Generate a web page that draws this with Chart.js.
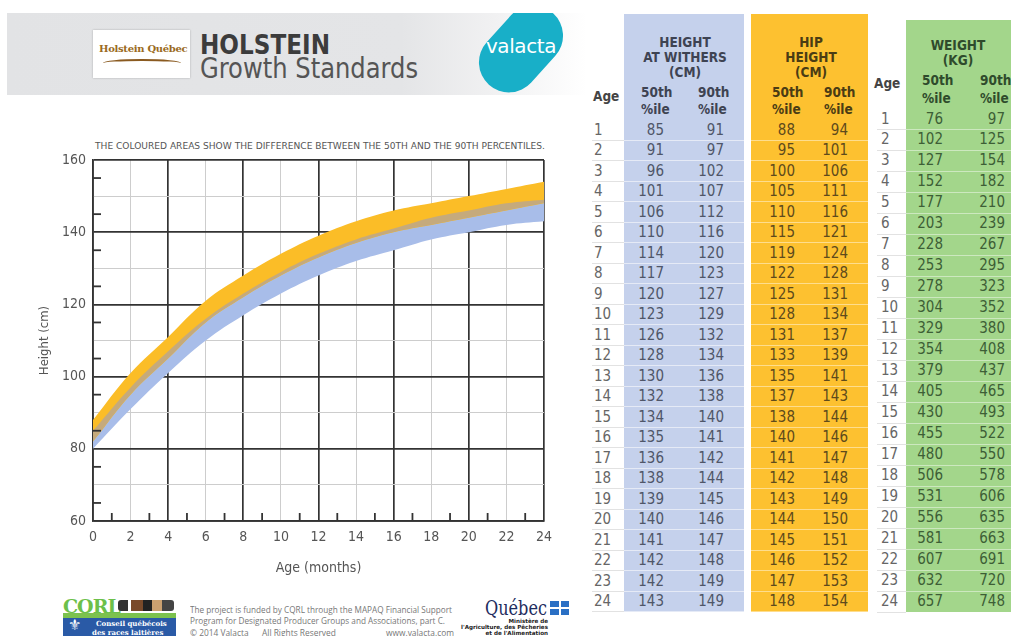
<!DOCTYPE html>
<html>
<head>
<meta charset="utf-8">
<script src="https://cdn.jsdelivr.net/npm/chart.js@4.4.1/dist/chart.umd.min.js"></script>
<style>
  html, body { margin: 0; padding: 0; background: #fff; }
  body { width: 1011px; height: 636px; position: relative; overflow: hidden;
         font-family: "DejaVu Sans Condensed", Roboto, sans-serif; color: #555; }
  .a { position: absolute; white-space: nowrap; }
  #banner { left: 7px; top: 13px; width: 580px; height: 82px;
            background: linear-gradient(to right, #e2e3e5 0%, #e4e5e7 68%, #f1f1f2 84%, #fff 100%); }
  #logo { left: 93px; top: 30px; width: 97px; height: 48px; background: #fff; box-shadow: 0 0 2px rgba(0,0,0,.25); }
  #logo span { position: absolute; left: 6px; top: 13px; font: bold 10px "DejaVu Serif", serif; color: #9a6a22; letter-spacing: -.3px; }
  #logo i { position: absolute; left: 10px; top: 29px; width: 78px; height: 6px; border-top: 2px solid #8a5a20; border-radius: 50% 50% 0 0; }
  #blobclip { left: 455px; top: 13px; width: 130px; height: 90px; overflow: hidden; }
  #blob { position: absolute; left: 36px; top: -12px; width: 60px; height: 96px; border-radius: 30px; background: #18afc8; transform: rotate(42deg); }
  #valacta { top: 34px; font: 20px "DejaVu Sans", sans-serif; color: #fff; letter-spacing: -.4px; }
  .col { position: absolute; }
  .hd { position: absolute; font-weight: bold; font-size: 13.5px; white-space: nowrap; }
  .num { position: absolute; font-size: 15px; white-space: nowrap; }
  .sep { position: absolute; height: 1px; }
  #wrap { position: absolute; left: 0; top: 140px; width: 570px; height: 440px; }
  .foot { position: absolute; font-family: "Open Sans", sans-serif; font-size: 8.4px; color: #777; white-space: nowrap; }
</style>
</head>
<body>
<div id="banner" class="a"></div>
<div id="logo" class="a"><span>Holstein Québec</span><i></i></div>
<div id="holstein" class="a" style="left:200px;top:29px;font-weight:bold;font-size:27px;color:#3c3c3c;">HOLSTEIN</div>
<div id="growth" class="a" style="left:200px;top:52px;font-size:28px;color:#555;">Growth Standards</div>
<div id="blobclip" class="a"><div id="blob"></div></div>
<div id="valacta" class="a">valacta</div>

<div id="sub" class="a" style="left:95px;top:141px;font-size:9px;color:#555;">THE COLOURED AREAS SHOW THE DIFFERENCE BETWEEN THE 50TH AND THE 90TH PERCENTILES.</div>
<div id="wrap"><canvas id="growthChart"></canvas></div>

<div id="tables"></div>

<!-- footer -->
<div class="a" style="left:63px;top:597px;width:113px;height:40px;background:#fff;"></div>
<div class="a" style="left:63px;top:595px;font:bold 19px 'DejaVu Serif',serif;color:#6cc04a;letter-spacing:-1px;">CQRL</div>
<div class="a" style="left:118px;top:600px;width:56px;height:11px;background:linear-gradient(to right,#333 0 18%,#fff 18% 24%,#7a4a2a 24% 44%,#222 44% 60%,#caa070 60% 78%,#444 78%);border-radius:3px;"></div>
<div class="a" style="left:63px;top:613px;width:113px;height:5px;background:#7cc24e;"></div>
<div class="a" style="left:63px;top:618px;width:113px;height:20px;background:#2a5aa6;"></div>
<div class="a" style="left:68px;top:616px;font:15px 'DejaVu Sans',sans-serif;color:#fff;">⚜</div>
<div class="a" style="left:96px;top:619px;font:bold 7px 'DejaVu Serif',serif;color:#fff;">Conseil québécois</div>
<div class="a" style="left:92px;top:628px;font:bold 7px 'DejaVu Serif',serif;color:#fff;">des races laitières</div>

<div id="f1" class="foot" style="left:190px;top:604px;">The project is funded by CQRL through the MAPAQ Financial Support</div>
<div id="f2" class="foot" style="left:190px;top:615px;">Program for Designated Producer Groups and Associations, part C.</div>
<div class="foot" style="left:190px;top:627px;">© 2014 Valacta</div>
<div class="foot" style="left:262px;top:627px;">All Rights Reserved</div>
<div class="foot" style="left:386px;top:627px;">www.valacta.com</div>

<div id="quebec" class="a" style="left:485px;top:596px;font:20px 'DejaVu Serif',serif;color:#1d2c5e;">Québec</div>
<div class="a" style="left:550px;top:601px;width:19px;height:14px;background:#2a6fc4;"></div>
<div class="a" style="left:558.5px;top:601px;width:2px;height:14px;background:#fff;"></div>
<div class="a" style="left:550px;top:607px;width:19px;height:2px;background:#fff;"></div>
<div class="a" style="right:463px;top:618px;font:bold 5.6px 'DejaVu Sans',sans-serif;color:#222;text-align:right;line-height:6px;">Ministère de<br>l'Agriculture, des Pêcheries<br>et de l'Alimentation</div>

<script>
// ---- data: month 0, months 1-24 from the tables ----
const months    = [0, 1, 2, 3, 4, 5, 6, 7, 8, 9, 10, 11, 12, 13, 14, 15, 16, 17, 18, 19, 20, 21, 22, 23, 24];
const withers50 = [80, 85, 91, 96, 101, 106, 110, 114, 117, 120, 123, 126, 128, 130, 132, 134, 135, 136, 138, 139, 140, 141, 142, 142, 143];
const withers90 = [85, 91, 97, 102, 107, 112, 116, 120, 123, 127, 129, 132, 134, 136, 138, 140, 141, 142, 144, 145, 146, 147, 148, 149, 149];
const hip50     = [82, 88, 95, 100, 105, 110, 115, 119, 122, 125, 128, 131, 133, 135, 137, 138, 140, 141, 142, 143, 144, 145, 146, 147, 148];
const hip90     = [88, 94, 101, 106, 111, 116, 121, 124, 128, 131, 134, 137, 139, 141, 143, 144, 146, 147, 148, 149, 150, 151, 152, 153, 154];
const weight50  = [76, 102, 127, 152, 177, 203, 228, 253, 278, 304, 329, 354, 379, 405, 430, 455, 480, 506, 531, 556, 581, 607, 632, 657];
const weight90  = [97, 125, 154, 182, 210, 239, 267, 295, 323, 352, 380, 408, 437, 465, 493, 522, 550, 578, 606, 635, 663, 691, 720, 748];

const BLUE = '#a8bde9', YELLOW = '#fbbd27', OVERLAP = '#c5aa7c';
const DARK = '#333', LIGHT = '#cdcdcd', TXT = '#555';
const FONT = '"DejaVu Sans Condensed", Roboto, sans-serif';

// ---- tables ----
const T = document.getElementById('tables');
function box(l, t, w, h, bg) {
  const d = document.createElement('div'); d.className = 'col';
  d.style.cssText = `left:${l}px;top:${t}px;width:${w}px;height:${h}px;background:${bg}`;
  T.appendChild(d);
}
function txt(cls, s, x, y, align, color) {
  const d = document.createElement('div'); d.className = cls; d.textContent = s; d.style.color = color;
  T.appendChild(d);
  const r = d.getBoundingClientRect();
  let left = x;
  if (align === 'right') left = x - r.width;
  else if (align === 'center') left = x - r.width / 2;
  d.style.left = left + 'px'; d.style.top = (y - r.height / 2) + 'px';
}
function sep(l, w, y, c) {
  const d = document.createElement('div'); d.className = 'sep';
  d.style.cssText = `left:${l}px;top:${y}px;width:${w}px;background:${c}`;
  T.appendChild(d);
}

box(624, 14, 120, 598, '#c5d1ec');
box(751, 14, 117, 598, '#fdc130');
box(906, 20, 105, 592, '#a3d68b');

const HB = '#3e4352', HY = '#4a3c14', HG = '#2f4b2c';
txt('hd', 'HEIGHT', 685, 42, 'center', HB);
txt('hd', 'AT WITHERS', 685, 57, 'center', HB);
txt('hd', '(CM)', 685, 72, 'center', HB);
txt('hd', 'Age', 593, 96, 'left', '#444');
txt('hd', '50th', 641, 92, 'left', HB);  txt('hd', '%ile', 641, 109, 'left', HB);
txt('hd', '90th', 698, 92, 'left', HB);  txt('hd', '%ile', 698, 109, 'left', HB);
txt('hd', 'HIP', 811, 42, 'center', HY);
txt('hd', 'HEIGHT', 811, 57, 'center', HY);
txt('hd', '(CM)', 811, 72, 'center', HY);
txt('hd', '50th', 772, 92, 'left', HY);  txt('hd', '%ile', 772, 109, 'left', HY);
txt('hd', '90th', 824, 92, 'left', HY);  txt('hd', '%ile', 824, 109, 'left', HY);
txt('hd', 'WEIGHT', 958, 45, 'center', HG);
txt('hd', '(KG)', 958, 60, 'center', HG);
txt('hd', 'Age', 874, 83, 'left', '#444');
txt('hd', '50th', 922, 80, 'left', HG);  txt('hd', '%ile', 922, 98, 'left', HG);
txt('hd', '90th', 980, 80, 'left', HG);  txt('hd', '%ile', 980, 98, 'left', HG);

for (let i = 0; i < 24; i++) {
  const m = months[i + 1];
  const y1 = 129.5 + i * 20.5;
  sep(592, 32, y1 + 10.2, '#e2e2e2'); sep(624, 120, y1 + 10.2, 'rgba(255,255,255,.55)');
  sep(751, 117, y1 + 10.2, 'rgba(255,255,255,.45)');
  txt('num', String(m), 594, y1, 'left', '#666');
  txt('num', String(withers50[i + 1]), 664, y1, 'right', '#4f5668');
  txt('num', String(withers90[i + 1]), 724, y1, 'right', '#4f5668');
  txt('num', String(hip50[i + 1]), 795, y1, 'right', '#5e4a1c');
  txt('num', String(hip90[i + 1]), 848, y1, 'right', '#5e4a1c');
  const y2 = 118.5 + i * 20.98;
  sep(877, 29, y2 + 10.5, '#e2e2e2'); sep(906, 105, y2 + 10.5, 'rgba(255,255,255,.45)');
  txt('num', String(m), 881, y2, 'left', '#666');
  txt('num', String(weight50[i]), 943, y2, 'right', '#3d5e36');
  txt('num', String(weight90[i]), 1005, y2, 'right', '#3d5e36');
}

// stretch a few text lines to the widths they have in the poster
function fitW(id, w) {
  const el = document.getElementById(id);
  const cur = el.getBoundingClientRect().width;
  el.style.transformOrigin = '0 0';
  el.style.transform = 'scaleX(' + (w / cur) + ')';
}
fitW('holstein', 130); fitW('growth', 218); fitW('sub', 450); fitW('f1', 262); fitW('f2', 255);
fitW('quebec', 62);
const va = document.getElementById('valacta');
va.style.left = (521 - va.getBoundingClientRect().width / 2) + 'px';

// ---- chart ----
// the poster draws smooth curves; plotting the table at every second month
// keeps the 1 cm rounding of the table from making the spline wobble
const pts = arr => months.map((m, i) => ({ x: m, y: arr[i] })).filter(p => p.x % 2 === 0);

const innerTicks = {
  id: 'innerTicks',
  afterDatasetsDraw(chart) {
    const { ctx, chartArea: a, scales: { x, y } } = chart;
    ctx.save();
    ctx.strokeStyle = DARK; ctx.lineWidth = 1.8;
    y.ticks.forEach(t => {
      if (t.value % 10 !== 5) return;
      const py = y.getPixelForValue(t.value);
      ctx.beginPath(); ctx.moveTo(a.left, py); ctx.lineTo(a.left + 8, py); ctx.stroke();
    });
    x.ticks.forEach(t => {
      if (t.value % 2 !== 1) return;
      const px = x.getPixelForValue(t.value);
      ctx.beginPath(); ctx.moveTo(px, a.bottom); ctx.lineTo(px, a.bottom - 8); ctx.stroke();
    });
    ctx.restore();
  }
};

const line = { borderWidth: 0, pointRadius: 0, tension: 0.4 };

const chart = new Chart(document.getElementById('growthChart'), {
  type: 'line',
  data: {
    datasets: [
      { ...line, label: 'Withers 50th', data: pts(withers50), fill: false, order: 5 },
      { ...line, label: 'Withers 90th', data: pts(withers90), fill: 0, backgroundColor: BLUE, order: 4 },
      { ...line, label: 'Hip 50th', data: pts(hip50), fill: false, order: 5 },
      { ...line, label: 'Hip 90th', data: pts(hip90), fill: 2, backgroundColor: YELLOW, order: 3 },
      { ...line, label: 'Overlap', data: pts(withers90), fill: { target: 2, above: OVERLAP, below: 'rgba(0,0,0,0)' }, order: 1 }
    ]
  },
  options: {
    responsive: true, maintainAspectRatio: false, animation: false,
    layout: { padding: { left: 0, top: 20, right: 20, bottom: 0 } },
    plugins: { legend: { display: false }, tooltip: { enabled: false } },
    scales: {
      x: {
        type: 'linear', min: 0, max: 24,
        ticks: { stepSize: 1, autoSkip: false, maxRotation: 0, color: TXT, padding: 8,
                 font: { family: FONT, size: 14 }, callback: v => (v % 2 === 0 ? v : '') },
        grid: { drawTicks: false,
                color: c => (c.tick.value % 4 === 0 ? DARK : c.tick.value % 2 === 0 ? LIGHT : 'rgba(0,0,0,0)'),
                lineWidth: c => (c.tick.value % 4 === 0 ? 1.7 : 1) },
        border: { color: DARK, width: 1.7 },
        title: { display: true, text: 'Age (months)', color: TXT, font: { family: FONT, size: 14 }, padding: { top: 6 } }
      },
      y: {
        min: 60, max: 160,
        ticks: { stepSize: 5, autoSkip: false, color: TXT, padding: 7,
                 font: { family: FONT, size: 14 }, callback: v => (v % 20 === 0 ? v : '') },
        grid: { drawTicks: false,
                color: c => (c.tick.value % 20 === 0 ? DARK : c.tick.value % 10 === 0 ? LIGHT : 'rgba(0,0,0,0)'),
                lineWidth: c => (c.tick.value % 20 === 0 ? 1.7 : 1) },
        border: { color: DARK, width: 1.7 },
        title: { display: true, text: 'Height (cm)', color: TXT, font: { family: FONT, size: 13 }, padding: { top: 0, bottom: 3 } }
      }
    }
  },
  plugins: [innerTicks]
});

// nudge the plot area onto the poster's grid box (93,160)-(544,521)
const target = { left: 93, top: 160, right: 544, bottom: 521 };
const wb = document.getElementById('wrap').getBoundingClientRect();
const ar = chart.chartArea, pad = chart.options.layout.padding;
pad.left += target.left - (wb.left + ar.left);
pad.top += target.top - (wb.top + ar.top);
pad.right += (wb.left + ar.right) - target.right;
pad.bottom += (wb.top + ar.bottom) - target.bottom;
chart.update('none');
</script>
</body>
</html>
